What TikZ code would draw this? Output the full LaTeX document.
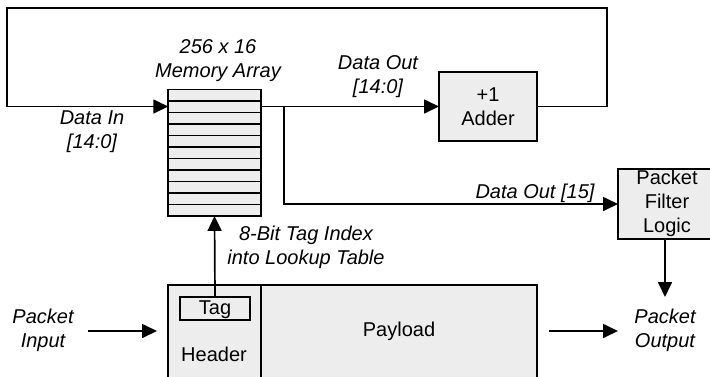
\documentclass[tikz,border=0pt]{standalone}
\usepackage{fontspec}
\setmainfont{Liberation Sans}
\usetikzlibrary{arrows.meta,calc}
\definecolor{boxgray}{HTML}{EDEDED}
\begin{document}
\begin{tikzpicture}[x=1pt,y=-1pt,
  every node/.style={inner sep=0pt,outer sep=0pt},
  lbl/.style={font=\fontsize{20}{24}\selectfont\itshape,align=center},
  txt/.style={font=\fontsize{20}{24}\selectfont,align=center},
  blk/.style={draw,fill=boxgray,line width=1.7pt,rectangle},
  wire/.style={line width=1.7pt},
  arr/.style={line width=1.7pt,-{Triangle[length=15pt,width=14pt]}},
]
\useasboundingbox (0,0) rectangle (710,376);
% memory array
\node[blk,minimum width=92.5pt,minimum height=126.5pt] (mem) at (214.5,152.7) {};
\foreach \i in {1,...,10}{
  \draw[wire] ($(mem.north west)+(0,11.5*\i)$) -- ($(mem.north east)+(0,11.5*\i)$);
}
% adder
\node[blk,txt,minimum width=98pt,minimum height=69pt] (adder) at (488,106.5) {+1\\Adder};
% packet filter
\node[blk,minimum width=96pt,minimum height=70pt] (filter) at (666,204) {};
\node[txt] (filtertxt) at (667,203) {Packet\\Filter\\Logic};
% header / payload
\node[blk,minimum width=92.5pt,minimum height=110pt] (header) at (214.5,340) {};
\node[blk,minimum width=276pt,minimum height=110pt] (payload) at (399,340) {};
\node[draw,line width=1.7pt,minimum width=70pt,minimum height=23pt] (tag) at (215,308.5) {};
\node[txt] (tagtxt) at (215,309.5) {Tag};
\node[txt] (hdrtxt) at (214,354) {Header};
\node[txt] (paytxt) at (399,331) {Payload};
% labels
\node[lbl] (memlbl) at (218,61) {256 x 16\\Memory Array};
\node[lbl] (dinlbl) at (92,131.5) {Data In\\{}[14:0]};
\node[lbl] (doutlbl) at (378,76.5) {Data Out\\{}[14:0]};
\node[lbl] (d15lbl) at (535,193) {Data Out [15]};
\node[lbl] (taglbl) at (306,247.5) {8-Bit Tag Index\\into Lookup Table};
\node[lbl] (pinlbl) at (43,330.5) {Packet\\Input};
\node[lbl] (poutlbl) at (665,330.5) {Packet\\Output};
% coordinates
\coordinate (cTR) at (607,8);
\coordinate (cTL) at (7,8);
\coordinate (br) at (284,106.5);
\coordinate (pinA) at (88,331);
\coordinate (pinB) at (157,331);
\coordinate (poutA) at (549,331);
\coordinate (poutB) at (618,331);
\coordinate (fout) at (665,297);
% connectors
\draw[arr] (adder.east) -| (cTR) -- (cTL) |- (mem.west |- adder.west);
\draw[arr] (mem.east |- adder.west) -- (adder.west);
\draw[arr] (br) |- (filter.west);
\draw[arr] (tag.north) -- (mem.south);
\draw[arr] (filter.south -| fout) -- (fout);
\draw[arr] (pinA) -- (pinB);
\draw[arr] (poutA) -- (poutB);
\end{tikzpicture}
\end{document}
